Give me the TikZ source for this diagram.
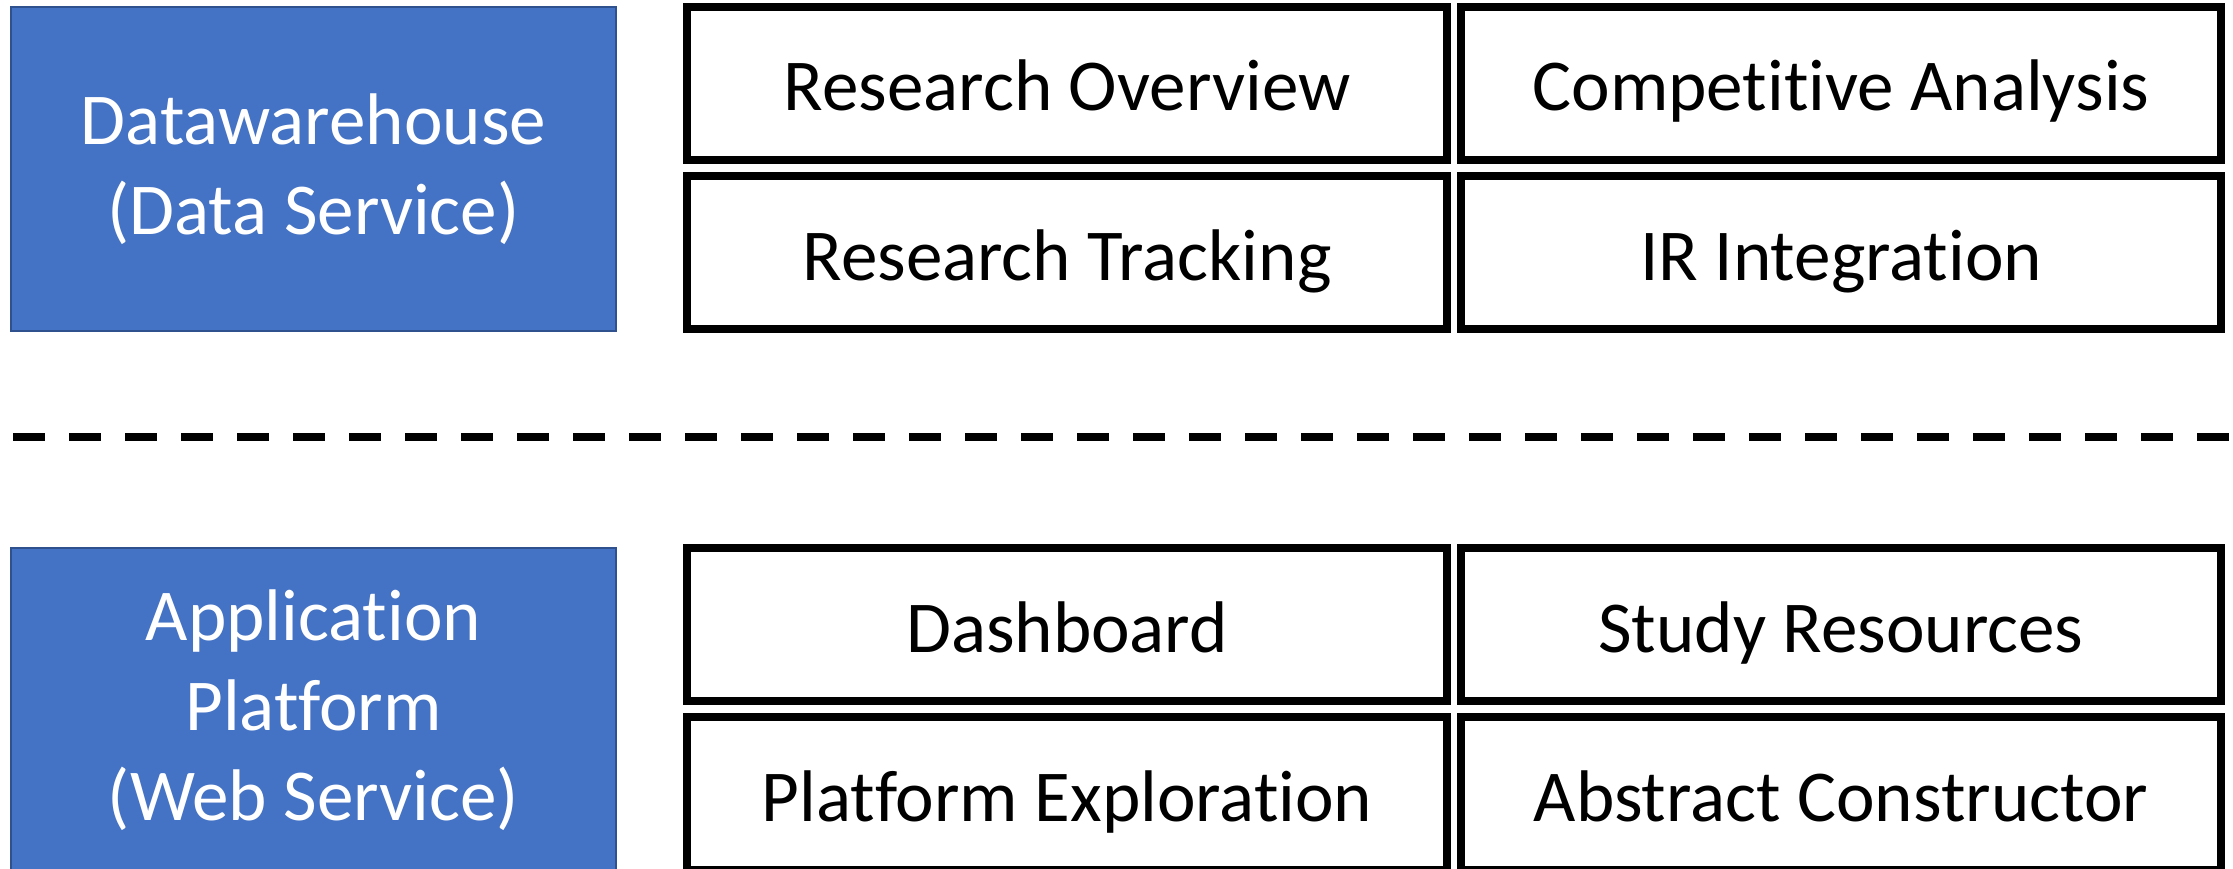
\documentclass[tikz,border=0pt]{standalone}
\usepackage{fontspec}
\setmainfont[Ligatures=NoCommon]{Carlito}
\usetikzlibrary{positioning}
\definecolor{officeblue}{HTML}{4472C4}
\definecolor{officeedge}{HTML}{2F528F}
\tikzset{
  service/.style={draw=officeedge, line width=0.6pt, fill=officeblue, text=white,
    minimum width=6.05cm, minimum height=3.24cm, inner sep=0pt, outer sep=0pt,
    align=center, font=\fontsize{20.8}{25.6}\selectfont},
  module/.style={draw=black, line width=0.08cm, fill=white,
    minimum width=7.6cm, minimum height=1.53cm, inner sep=0pt, outer sep=0pt,
    text height=0.6cm, text depth=0.05cm, font=\fontsize{20.8}{25.6}\selectfont},
  separator/.style={draw=black, line width=0.08cm, dash pattern=on 0.32cm off 0.24cm}
}
\begin{document}
\begin{tikzpicture}[node distance=0.16cm and 0.14cm]
    \useasboundingbox (0,0) rectangle (22.33,8.68);

    % data layer
    \node[service] (dw) at (3.135,6.99) {Datawarehouse\\(Data Service)};
    \node[module, anchor=north west] (rov) at ([xshift=0.71cm]dw.north east) {Research Overview};
    \node[module, right=of rov] (comp) {Competitive Analysis};
    \node[module, below=of rov] (rtrack) {Research Tracking};
    \node[module, below=of comp] (ir) {IR Integration};

    % separator
    \coordinate (sepl) at (0.13,4.315);
    \coordinate (sepr) at (22.40,4.315);
    \draw[separator] (sepl) -- (sepr);

    % web layer
    \node[service] (app) at (3.135,1.58) {Application\\Platform\\(Web Service)};
    \node[module, anchor=north west] (dash) at ([xshift=0.71cm]app.north east) {Dashboard};
    \node[module, right=of dash] (study) {Study Resources};
    \node[module, below=of dash] (explore) {Platform Exploration};
    \node[module, below=of study] (abstr) {Abstract Constructor};
\end{tikzpicture}
\end{document}
